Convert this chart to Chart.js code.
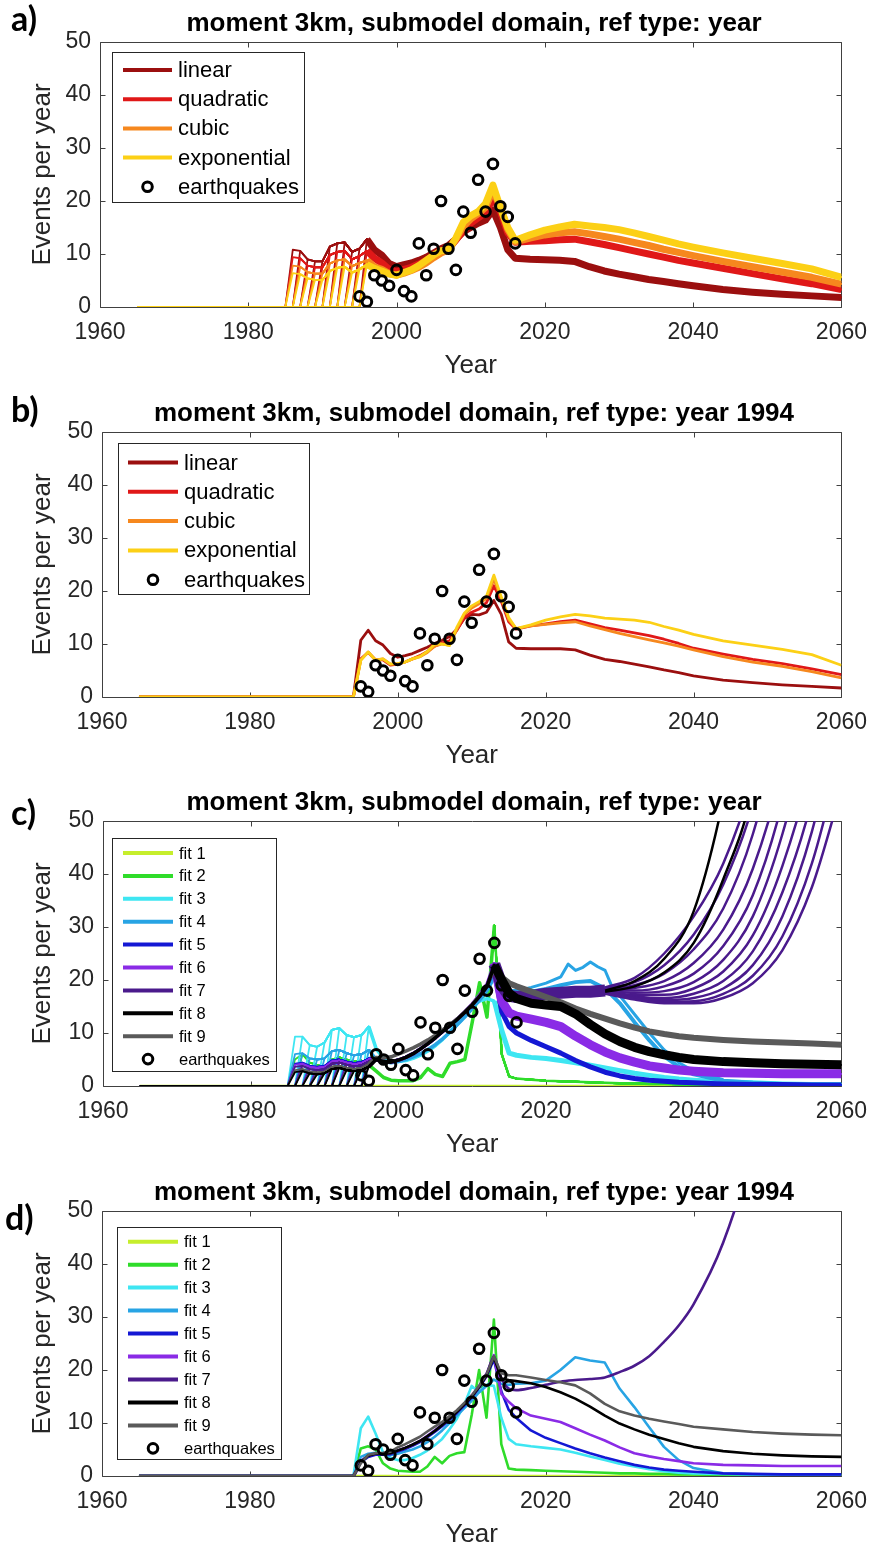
<!DOCTYPE html>
<html>
<head>
<meta charset="utf-8">
<script src="https://cdn.jsdelivr.net/npm/chart.js@4.4.1/dist/chart.umd.min.js"></script>
<style>
  body { margin: 0; background: #fff; width: 879px; height: 1552px; position: relative; overflow: hidden; }
  .panel { position: absolute; left: 0; width: 879px; }
  .panel canvas { position: absolute; left: 0; top: 0; }
  .tag { position: absolute; font: bold 34px Lato, "Open Sans", sans-serif; line-height: 34px; color: #000; }
  .ttl { position: absolute; left: 100px; width: 748px; top: 8px; text-align: center;
         font: bold 26px "Liberation Sans", Arial, sans-serif; line-height: 28px; color: #000; white-space: nowrap; }
</style>
</head>
<body>

<div class="panel" style="top:0px;height:390px">
  <canvas id="chartA" width="879" height="390"></canvas>
  <div class="ttl">moment 3km, submodel domain, ref type: year</div>
  <div class="tag" style="left:11px;top:1px">a)</div>
</div>
<div class="panel" style="top:390px;height:389px">
  <canvas id="chartB" width="879" height="389"></canvas>
  <div class="ttl">moment 3km, submodel domain, ref type: year 1994</div>
  <div class="tag" style="left:11px;top:2px">b)</div>
</div>
<div class="panel" style="top:779px;height:390px">
  <canvas id="chartC" width="879" height="390"></canvas>
  <div class="ttl">moment 3km, submodel domain, ref type: year</div>
  <div class="tag" style="left:11px;top:16px">c)</div>
</div>
<div class="panel" style="top:1169px;height:383px">
  <canvas id="chartD" width="879" height="383"></canvas>
  <div class="ttl">moment 3km, submodel domain, ref type: year 1994</div>
  <div class="tag" style="left:5px;top:31px">d)</div>
</div>

<script>
// ---- axes ----
const xTicks = [1960, 1980, 2000, 2020, 2040, 2060];
const yTicks = [0, 10, 20, 30, 40, 50];

// common year grid of the model curves
const yrs = [1965, 1984,
  1985, 1986, 1987, 1988, 1989, 1990, 1991, 1992, 1993, 1994,
  1995, 1996, 1997, 1998, 1999, 2000, 2001, 2002, 2003, 2004,
  2005, 2006, 2007, 2008, 2009, 2010, 2011, 2012, 2013, 2014, 2015, 2016,
  2018, 2020, 2022, 2024, 2026, 2028, 2030, 2032, 2034, 2036, 2038, 2040,
  2044, 2048, 2052, 2056, 2060];

// observed earthquakes
const eqYears = [1995, 1996, 1997, 1998, 1999, 2000, 2001, 2002, 2003, 2004, 2005,
  2006, 2007, 2008, 2009, 2010, 2011, 2012, 2013, 2014, 2015, 2016];
const eqCounts = [2, 1, 6, 5, 4, 7, 3, 2, 12, 6, 11, 20, 11, 7, 18, 14, 24, 18, 27, 19, 17, 12];

// start years of the "ref type: year" runs (panels a, c)
const startYears = [1986, 1987, 1988, 1989, 1990, 1991, 1992, 1993, 1994, 1995, 1996];

// ---- panel a : ref type year ----
const aNames = ['linear', 'quadratic', 'cubic', 'exponential'];
const aColors = ['#9b0f0f', '#e01818', '#f6881e', '#fcd016'];
const aLin = [0, 0,
  0, 10.8, 10.6, 9.0, 8.6, 8.6, 11.4, 12.0, 12.2, 10.4,
  11.0, 12.8, 10.8, 9.8, 8.2, 7.6, 8.0, 8.3, 8.8, 9.4,
  10.2, 11.0, 11.6, 12.8, 14.2, 15.0, 15.8, 16.4, 18.3, 15.0, 10.8, 9.2,
  9.0, 8.9, 8.8, 8.6, 7.6, 6.8, 6.2, 5.7, 5.2, 4.8, 4.4, 4.0,
  3.3, 2.8, 2.4, 2.1, 1.8];
const aQuad = [0, 0,
  0, 9.4, 9.2, 7.8, 7.5, 7.5, 9.8, 10.4, 10.6, 9.0,
  9.6, 10.6, 9.2, 8.3, 7.1, 6.6, 7.1, 7.5, 8.1, 8.8,
  9.6, 10.4, 11.0, 12.6, 14.4, 15.8, 16.8, 17.8, 20.6, 18.0, 14.0, 12.2,
  12.4, 12.5, 12.7, 12.8, 12.3, 11.8, 11.2, 10.6, 10.0, 9.4, 8.8, 8.3,
  7.3, 6.3, 5.3, 4.4, 3.3];
const aCub = [0, 0,
  0, 7.8, 7.6, 6.6, 6.3, 6.3, 8.2, 8.8, 9.0, 7.7,
  8.3, 8.8, 7.6, 7.1, 6.3, 6.0, 6.4, 6.9, 7.5, 8.3,
  9.3, 10.2, 10.8, 12.8, 15.2, 16.6, 17.6, 18.8, 22.0, 18.8, 14.6, 12.3,
  13.0, 13.6, 14.0, 14.2, 13.8, 13.3, 12.8, 12.2, 11.6, 10.9, 10.3, 9.7,
  8.6, 7.6, 6.6, 5.6, 4.3];
const aExp = [0, 0,
  0, 6.4, 6.2, 5.4, 5.1, 5.1, 6.8, 7.4, 7.6, 6.5,
  7.1, 8.0, 7.3, 6.8, 6.2, 6.0, 6.5, 7.0, 7.8, 8.8,
  9.8, 10.6, 10.8, 13.0, 16.0, 17.2, 18.0, 19.5, 23.0, 18.8, 15.0, 12.6,
  13.6, 14.5, 15.1, 15.6, 15.3, 15.0, 14.6, 14.0, 13.3, 12.6, 11.9, 11.3,
  10.2, 9.2, 8.2, 7.2, 5.6];

// ---- panel b : ref type year 1994 ----
const bLin = [0, 0,
  0, 0, 0, 0, 0, 0, 0, 0, 0, 0,
  10.7, 12.6, 10.6, 9.8, 8.2, 7.5, 7.8, 8.2, 8.8, 9.4,
  10.1, 10.7, 11.4, 12.8, 14.8, 15.6, 15.5, 16.0, 18.2, 15.6, 10.4, 9.2,
  9.1, 9.1, 9.1, 8.9, 7.9, 7.1, 6.7, 6.2, 5.7, 5.1, 4.6, 4.0,
  3.2, 2.7, 2.3, 2.0, 1.7];
const bQuad = [0, 0,
  0, 0, 0, 0, 0, 0, 0, 0, 0, 0,
  7.2, 8.4, 7.0, 7.0, 6.0, 6.2, 6.6, 7.2, 7.8, 8.6,
  9.6, 10.2, 10.6, 12.6, 15.0, 16.0, 16.6, 17.8, 21.0, 18.0, 14.2, 12.8,
  13.4, 13.8, 14.2, 14.5, 13.8, 13.1, 12.6, 12.1, 11.6, 10.9, 10.1, 9.2,
  8.1, 7.1, 6.3, 5.3, 4.2];
const bCub = [0, 0,
  0, 0, 0, 0, 0, 0, 0, 0, 0, 0,
  7.0, 8.5, 7.0, 7.2, 6.2, 6.3, 6.6, 7.2, 7.6, 8.4,
  9.6, 10.0, 9.8, 12.8, 15.6, 16.8, 17.6, 18.6, 22.2, 18.6, 14.6, 12.9,
  13.4, 13.7, 14.0, 14.2, 13.4, 12.7, 12.0, 11.4, 10.8, 10.2, 9.6, 8.9,
  7.6, 6.6, 5.8, 4.8, 3.6];
const bExp = [0, 0,
  0, 0, 0, 0, 0, 0, 0, 0, 0, 0,
  6.9, 8.5, 6.9, 7.2, 6.2, 6.3, 6.6, 7.2, 7.6, 8.6,
  10.0, 10.0, 9.7, 13.2, 15.8, 17.2, 18.0, 19.0, 23.0, 18.9, 15.0, 12.9,
  13.6, 14.5, 15.1, 15.6, 15.3, 14.9, 14.7, 14.5, 14.1, 13.3, 12.6, 11.8,
  10.6, 9.8, 9.0, 8.0, 6.0];

// ---- panels c, d : fits ----
const fitNames = ['fit 1', 'fit 2', 'fit 3', 'fit 4', 'fit 5', 'fit 6', 'fit 7', 'fit 8', 'fit 9'];
const fitColors = ['#c6ee2c', '#2fdc2a', '#3ee6f2', '#28a4e4', '#1418d4', '#8a2be6', '#4a1a8c', '#000000', '#5a5a5a'];
const fit1Years = [1965, 2060];
const fit1Vals = [0, 0];

const cFit2 = [0, 0,
  0, 5.0, 6.0, 4.4, 4.0, 3.6, 5.0, 5.4, 5.0, 4.6,
  4.8, 4.0, 2.8, 1.6, 1.1, 1.0, 1.0, 1.0, 1.6, 3.3,
  2.2, 1.8, 4.3, 4.6, 5.0, 12.0, 19.5, 13.0, 30.3, 6.0, 1.8, 1.4,
  1.2, 1.0, 0.9, 0.8, 0.7, 0.6, 0.5, 0.5, 0.4, 0.4, 0.3, 0.3,
  0.2, 0.2, 0.1, 0.1, 0.1];
const cFit3 = [0, 0,
  0, 9.3, 9.3, 7.7, 7.4, 8.2, 10.6, 10.9, 9.6, 9.2,
  9.6, 11.2, 7.0, 5.2, 4.6, 4.6, 4.8, 5.2, 5.8, 6.6,
  7.6, 8.8, 10.2, 12.0, 13.5, 15.0, 16.0, 16.5, 16.0, 10.5, 6.2, 5.8,
  5.4, 5.2, 4.8, 4.4, 3.9, 3.4, 2.9, 2.4, 2.0, 1.6, 1.3, 1.1,
  0.8, 0.6, 0.4, 0.3, 0.3];
const cFit4 = [0, 0,
  0, 6.0, 6.2, 5.2, 5.0, 5.2, 6.6, 6.8, 6.2, 5.8,
  6.0, 6.8, 5.0, 4.6, 4.4, 4.6, 5.0, 5.5, 6.1, 6.9,
  7.8, 8.9, 10.2, 11.6, 13.0, 14.6, 16.2, 18.0, 20.5, 18.6, 17.6, 17.6,
  17.8, 18.3, 19.0, 19.6, 19.8, 18.4, 15.6, 12.0, 8.6, 5.6, 3.6, 2.2,
  1.0, 0.6, 0.4, 0.3, 0.2];
const cFit4HiYears = [2013, 2014, 2015, 2016, 2018, 2020, 2022, 2023, 2024, 2025, 2026,
  2027, 2028, 2029, 2030, 2032, 2034, 2036, 2038, 2040, 2044];
const cFit4Hi = [21.0, 18.8, 18.0, 18.0, 18.6, 19.4, 20.6, 23.0, 21.8, 22.4, 23.4,
  22.5, 21.8, 18.5, 17.0, 13.5, 10.0, 6.8, 4.4, 2.8, 1.2];
const cFit5 = [0, 0,
  0, 4.2, 4.4, 3.8, 3.6, 3.8, 4.8, 5.0, 4.6, 4.3,
  4.5, 5.2, 5.0, 4.6, 4.5, 4.9, 5.4, 6.1, 7.0, 8.0,
  9.1, 10.3, 11.4, 12.6, 13.9, 15.3, 16.9, 18.8, 22.0, 14.0, 11.2, 10.0,
  8.6, 7.4, 6.2, 4.8, 3.6, 2.6, 1.9, 1.4, 1.1, 0.9, 0.7, 0.6,
  0.4, 0.3, 0.3, 0.2, 0.2];
const cFit6 = [0, 0,
  0, 4.0, 4.2, 3.6, 3.4, 3.6, 4.6, 4.8, 4.4, 4.1,
  4.3, 5.0, 5.0, 4.6, 4.5, 4.9, 5.4, 6.1, 7.0, 8.0,
  9.1, 10.3, 11.5, 12.7, 14.0, 15.5, 17.2, 19.2, 23.2, 16.0, 13.8, 13.2,
  12.6, 12.0, 11.2, 9.4, 7.8, 6.4, 5.3, 4.5, 3.8, 3.4, 3.0, 2.8,
  2.5, 2.4, 2.3, 2.3, 2.3];
const cFit7 = [0, 0,
  0, 3.6, 3.8, 3.2, 3.0, 3.2, 4.2, 4.4, 4.0, 3.7,
  3.9, 4.6, 5.0, 4.6, 4.5, 4.9, 5.4, 6.1, 7.0, 8.0,
  9.1, 10.3, 11.4, 12.6, 13.9, 15.3, 16.9, 18.8, 23.0, 19.0, 17.0, 16.8,
  17.0, 17.4, 17.6, 17.8, 17.8, 18.0, null, null, null, null, null, null,
  null, null, null, null, null];
const cFit8 = [0, 0,
  0, 2.6, 2.8, 2.4, 2.2, 2.4, 3.2, 3.4, 3.0, 2.8,
  3.0, 3.6, 5.0, 4.6, 4.5, 4.9, 5.4, 6.1, 7.0, 8.0,
  9.1, 10.3, 11.4, 12.6, 13.9, 15.3, 16.9, 18.8, 22.8, 20.0, 17.5, 16.5,
  15.6, 15.3, 15.0, 13.6, 11.6, 9.8, 8.4, 7.3, 6.5, 5.9, 5.4, 5.0,
  4.6, 4.4, 4.2, 4.1, 4.0];
const cFit9 = [0, 0,
  0, 3.0, 3.2, 2.7, 2.5, 2.7, 3.6, 3.8, 3.4, 3.2,
  3.4, 4.2, 5.4, 5.3, 5.5, 6.0, 6.6, 7.2, 7.9, 8.7,
  9.6, 10.6, 11.6, 12.7, 14.0, 15.4, 17.0, 18.9, 22.2, 20.5, 19.4, 18.8,
  17.8, 16.8, 15.8, 14.6, 13.6, 12.7, 11.8, 11.0, 10.3, 9.8, 9.4, 9.1,
  8.7, 8.4, 8.2, 8.0, 7.8];

// runaway runs of fit 7 (and two of fit 8) in panel c, after 2028
const lateYears = [2028, 2032, 2036, 2040, 2044, 2048, 2052, 2056, 2060];
const cFit7Late = [
  [18.6, 20.4, 25.0, 32.0, 42.0, 58, 85, 120, 170],
  [18.4, 19.6, 22.8, 28.6, 38.0, 53, 78, 110, 155],
  [18.2, 19.0, 21.2, 25.8, 33.5, 47.5, 70, 100, 145],
  [18.1, 18.5, 19.8, 23.2, 29.5, 41.0, 60, 90, 130],
  [18.0, 18.0, 18.8, 21.2, 26.4, 36.0, 53.5, 80, 115],
  [17.9, 17.6, 17.9, 19.6, 23.8, 32.0, 47.5, 70, 100],
  [17.8, 17.2, 17.2, 18.4, 21.6, 28.4, 41.5, 61, 92],
  [17.7, 16.9, 16.6, 17.4, 19.8, 25.4, 36.5, 54, 82],
  [17.6, 16.7, 16.2, 16.6, 18.4, 22.8, 32.0, 48, 72],
  [17.5, 16.5, 15.9, 16.0, 17.4, 20.8, 28.2, 42.0, 63],
  [17.4, 16.3, 15.6, 15.6, 16.6, 19.4, 25.6, 37.5, 56]
];
const cFit8Late = [
  [18.0, 19.8, 24.0, 33.0, 54, 85, 130, 180, 240],
  [17.8, 18.8, 21.4, 27.0, 39.0, 56, 90, 130, 180]
];

const dFit2 = [0, 0,
  0, 0, 0, 0, 0, 0, 0, 0, 0, 0,
  5.2, 5.6, 5.0, 2.4, 1.4, 1.0, 0.9, 0.8, 0.8, 1.8,
  3.6, 2.4, 3.8, 4.3, 4.5, 11.5, 20.0, 11.0, 29.5, 6.0, 1.4, 1.2,
  1.1, 1.0, 0.9, 0.8, 0.7, 0.6, 0.5, 0.5, 0.4, 0.4, 0.3, 0.3,
  0.2, 0.2, 0.1, 0.1, 0.1];
const dFit3 = [0, 0,
  0, 0, 0, 0, 0, 0, 0, 0, 0, 0,
  9.0, 11.2, 8.0, 4.5, 3.4, 3.0, 3.0, 3.4, 4.0, 4.8,
  5.8, 7.0, 8.8, 10.8, 13.5, 17.0, 15.8, 17.2, 17.0, 11.0, 7.0, 6.0,
  5.6, 5.3, 5.0, 4.4, 3.7, 3.0, 2.3, 1.8, 1.3, 0.9, 0.6, 0.5,
  0.4, 0.3, 0.2, 0.2, 0.2];
const dFit4 = [0, 0,
  0, 0, 0, 0, 0, 0, 0, 0, 0, 0,
  3.6, 4.2, 4.4, 4.0, 3.9, 4.2, 4.6, 5.0, 5.6, 6.4,
  7.4, 8.6, 10.0, 11.4, 12.8, 14.2, 15.8, 17.0, 18.2, 17.4, 17.2, 17.4,
  17.5, 18.0, 20.0, 22.4, 21.8, 21.4, 16.5, 13.0, 9.2, 5.5, 3.0, 1.5,
  0.5, 0.3, 0.2, 0.2, 0.2];
const dFit5 = [0, 0,
  0, 0, 0, 0, 0, 0, 0, 0, 0, 0,
  2.6, 3.6, 4.0, 4.0, 4.1, 4.6, 5.1, 5.7, 6.4, 7.3,
  8.3, 9.4, 10.6, 11.9, 13.3, 14.8, 16.6, 18.8, 22.0, 16.0, 12.5, 11.0,
  8.6, 7.2, 6.2, 5.2, 4.3, 3.5, 2.8, 2.1, 1.6, 1.2, 1.0, 0.8,
  0.5, 0.4, 0.3, 0.3, 0.3];
const dFit6 = [0, 0,
  0, 0, 0, 0, 0, 0, 0, 0, 0, 0,
  2.8, 3.8, 4.2, 4.2, 4.3, 4.8, 5.3, 5.9, 6.6, 7.6,
  8.6, 9.7, 10.9, 12.2, 13.6, 15.2, 17.0, 19.3, 22.8, 15.5, 14.0, 12.8,
  11.4, 10.8, 10.2, 9.0, 7.8, 6.7, 5.4, 4.3, 3.7, 3.2, 2.8, 2.4,
  2.1, 2.0, 1.9, 1.9, 1.9];
const dFit7 = [0, 0,
  0, 0, 0, 0, 0, 0, 0, 0, 0, 0,
  2.6, 3.8, 4.2, 4.2, 4.3, 4.8, 5.3, 5.9, 6.6, 7.5,
  8.5, 9.6, 10.8, 12.1, 13.5, 15.0, 16.8, 19.0, 22.5, 18.5, 16.5, 16.2,
  16.6, 17.2, 17.8, 18.1, 18.3, 18.6, 19.6, 20.8, 22.6, 25.3, 28.4, 32.4,
  44.0, 62, 90, 130, 180];
const dFit8 = [0, 0,
  0, 0, 0, 0, 0, 0, 0, 0, 0, 0,
  2.6, 3.8, 4.2, 4.2, 4.3, 4.8, 5.3, 5.9, 6.6, 7.5,
  8.5, 9.6, 10.8, 12.1, 13.5, 15.0, 16.8, 19.0, 22.4, 18.4, 18.1, 17.9,
  17.5, 16.8, 15.8, 14.6, 13.1, 11.4, 9.9, 8.8, 7.8, 7.0, 6.2, 5.5,
  4.7, 4.2, 3.9, 3.7, 3.6];
const dFit9 = [0, 0,
  0, 0, 0, 0, 0, 0, 0, 0, 0, 0,
  2.4, 4.0, 4.3, 4.4, 4.6, 5.4, 6.0, 6.7, 7.4, 8.4,
  9.3, 10.2, 11.3, 12.4, 13.8, 15.2, 17.0, 19.2, 22.6, 19.4, 19.0, 19.0,
  18.6, 18.1, 17.7, 17.1, 15.6, 13.6, 12.2, 11.4, 10.8, 10.3, 9.8, 9.3,
  8.8, 8.3, 8.0, 7.8, 7.7];

// ---- helpers ----
Chart.defaults.font.family = '"Liberation Sans", Arial, sans-serif';

const startedIn = (vals, s) => vals.map((v, i) => (yrs[i] < s ? 0 : v));
const onlyFrom = (vals, s) => vals.map((v, i) => (yrs[i] < s ? null : v));

function line(xs, ys, color, width, extra) {
  return Object.assign({
    data: xs.map((x, i) => ({ x: x, y: ys[i] })),
    borderColor: color, backgroundColor: color, borderWidth: width,
    pointRadius: 0, fill: false, tension: 0
  }, extra || {});
}

function quakes() {
  return {
    data: eqYears.map((x, i) => ({ x: x, y: eqCounts[i] })),
    showLine: false, pointRadius: 4.8, pointBorderWidth: 3,
    pointBorderColor: '#000', pointBackgroundColor: 'rgba(0,0,0,0)'
  };
}

// band that is thin before 2013 and wide afterwards
function band(vals, color, w) {
  return line(yrs, onlyFrom(vals, 1996), color, 3.5, {
    segment: { borderWidth: c => (c.p0.parsed.x >= 2013 ? w : 3.5) }
  });
}

// first plotted = bottom
function stack(list) {
  list.forEach((d, i) => { d.order = list.length - i; });
  return list;
}

const frame = {
  id: 'frame',
  beforeDatasetsDraw(chart) {
    const { ctx, chartArea: a, scales: { x, y } } = chart;
    const L = Math.round(a.left) + 0.5, R = Math.round(a.right) + 0.5;
    const T = Math.round(a.top) + 0.5, B = Math.round(a.bottom) + 0.5;
    ctx.save();
    ctx.strokeStyle = '#404040';
    ctx.lineWidth = 1;
    ctx.beginPath();
    xTicks.forEach(v => {
      const px = Math.round(x.getPixelForValue(v)) + 0.5;
      ctx.moveTo(px, B); ctx.lineTo(px, B - 5);
      ctx.moveTo(px, T); ctx.lineTo(px, T + 5);
    });
    yTicks.forEach(v => {
      const py = Math.round(y.getPixelForValue(v)) + 0.5;
      ctx.moveTo(L, py); ctx.lineTo(L + 5, py);
      ctx.moveTo(R, py); ctx.lineTo(R - 5, py);
    });
    ctx.rect(L, T, R - L, B - T);
    ctx.stroke();
    ctx.restore();
  }
};

const boxLegend = {
  id: 'boxLegend',
  afterDraw(chart, args, o) {
    if (!o || !o.items) return;
    const ctx = chart.ctx;
    ctx.save();
    ctx.fillStyle = '#fff';
    ctx.fillRect(o.x, o.y, o.w, o.h);
    ctx.strokeStyle = '#262626';
    ctx.lineWidth = 1;
    ctx.strokeRect(o.x + 0.5, o.y + 0.5, o.w, o.h);
    ctx.font = o.font;
    ctx.textBaseline = 'middle';
    o.items.forEach((it, i) => {
      const cy = o.row0 + i * o.dy;
      if (it.marker) {
        ctx.beginPath();
        ctx.arc((o.l0 + o.l1) / 2, cy, 4.8, 0, Math.PI * 2);
        ctx.strokeStyle = '#000';
        ctx.lineWidth = 3;
        ctx.stroke();
      } else {
        ctx.beginPath();
        ctx.moveTo(o.l0, cy);
        ctx.lineTo(o.l1, cy);
        ctx.strokeStyle = it.color;
        ctx.lineWidth = 4;
        ctx.stroke();
      }
      ctx.fillStyle = '#000';
      ctx.fillText(it.label, o.tx, cy + 1);
    });
    ctx.restore();
  }
};

function makeChart(id, H, plotLeft, datasets, legend) {
  new Chart(document.getElementById(id), {
    type: 'line',
    data: { datasets: datasets },
    options: {
      responsive: false,
      animation: false,
      devicePixelRatio: 1,
      layout: { padding: { top: 42, right: 31, left: 0, bottom: 0 } },
      elements: { line: { borderJoinStyle: 'round', borderCapStyle: 'butt' } },
      plugins: { legend: { display: false }, tooltip: { enabled: false }, boxLegend: legend },
      scales: {
        x: {
          type: 'linear', min: 1960, max: 2060,
          grid: { display: false, drawTicks: false }, border: { display: false },
          afterBuildTicks: s => { s.ticks = xTicks.map(v => ({ value: v })); },
          afterFit: s => { s.height = H - 307; },
          ticks: { color: '#262626', font: { size: 23 }, padding: 12, maxRotation: 0, autoSkip: false,
                   callback: v => String(v) },
          title: { display: true, text: 'Year', color: '#262626', font: { size: 26 },
                   padding: { top: 0, bottom: Math.max(0, H - 366 - 15.6) } }
        },
        y: {
          type: 'linear', min: 0, max: 50,
          grid: { display: false, drawTicks: false }, border: { display: false },
          afterBuildTicks: s => { s.ticks = yTicks.map(v => ({ value: v })); },
          afterFit: s => { s.width = plotLeft; },
          ticks: { color: '#262626', font: { size: 23 }, padding: 9, callback: v => String(v) },
          title: { display: true, text: 'Events per year', color: '#262626', font: { size: 26 },
                   padding: { top: 27, bottom: 0 } }
        }
      }
    },
    plugins: [frame, boxLegend]
  });
}

// ---- panel a ----
const aSets = [];
[aLin, aQuad, aCub, aExp].forEach((vals, k) => {
  startYears.forEach(s => aSets.push(line(yrs, startedIn(vals, s), aColors[k], 1.8)));
  aSets.push(line(yrs, onlyFrom(vals, 1996), aColors[k], 7));
});
aSets.push(quakes());

const aLegendItems = aNames.map((n, k) => ({ label: n, color: aColors[k] })).concat([{ label: 'earthquakes', marker: true }]);
makeChart('chartA', 390, 100, stack(aSets), {
  x: 112, y: 52, w: 192, h: 150, row0: 70, dy: 29.2, l0: 123, l1: 172, tx: 178,
  font: '22px "Liberation Sans", Arial, sans-serif', items: aLegendItems
});

// ---- panel b ----
const bSets = [bLin, bQuad, bCub, bExp].map((vals, k) => line(yrs, vals, aColors[k], 2.8));
bSets.push(quakes());
makeChart('chartB', 389, 102, stack(bSets), {
  x: 118, y: 53, w: 191, h: 151, row0: 72.5, dy: 29.3, l0: 128, l1: 178, tx: 184,
  font: '22px "Liberation Sans", Arial, sans-serif', items: aLegendItems
});

// ---- panel c ----
const cSets = [line(fit1Years, fit1Vals, fitColors[0], 2.5)];
function cFamily(vals, colorIdx, w) {
  startYears.forEach(s => cSets.push(line(yrs, startedIn(vals, s), fitColors[colorIdx], 1.8)));
  cSets.push(band(vals, fitColors[colorIdx], w));
}
cFamily(cFit2, 1, 2.5);
cFamily(cFit3, 2, 5);
cFamily(cFit4, 3, 4);
cSets.push(line(cFit4HiYears, cFit4Hi, fitColors[3], 3));
cFamily(cFit5, 4, 5);
cFamily(cFit6, 5, 9);
cFamily(cFit7, 6, 12);
cFit7Late.forEach(v => cSets.push(line(lateYears, v, fitColors[6], 2.5, { cubicInterpolationMode: 'monotone' })));
cFamily(cFit9, 8, 6);
cFamily(cFit8, 7, 9);
cFit8Late.forEach(v => cSets.push(line(lateYears, v, fitColors[7], 2.5, { cubicInterpolationMode: 'monotone' })));
cSets.push(quakes());

const fitLegendItems = fitNames.map((n, k) => ({ label: n, color: fitColors[k] })).concat([{ label: 'earthquakes', marker: true }]);
makeChart('chartC', 390, 103, stack(cSets), {
  x: 112, y: 59, w: 164, h: 233, row0: 74, dy: 22.9, l0: 123, l1: 173, tx: 179,
  font: '16.5px "Liberation Sans", Arial, sans-serif', items: fitLegendItems
});

// ---- panel d ----
const dSets = [line(fit1Years, fit1Vals, fitColors[0], 2.6)];
[dFit2, dFit3, dFit4, dFit5, dFit6, dFit7, dFit8, dFit9].forEach((vals, k) => {
  dSets.push(line(yrs, vals, fitColors[k + 1], 2.6, k === 5 ? { cubicInterpolationMode: 'monotone' } : {}));
});
dSets.push(quakes());
makeChart('chartD', 383, 102, stack(dSets), {
  x: 117, y: 58, w: 164, h: 232, row0: 72.7, dy: 22.96, l0: 128, l1: 178, tx: 184,
  font: '16.5px "Liberation Sans", Arial, sans-serif', items: fitLegendItems
});
</script>
</body>
</html>
